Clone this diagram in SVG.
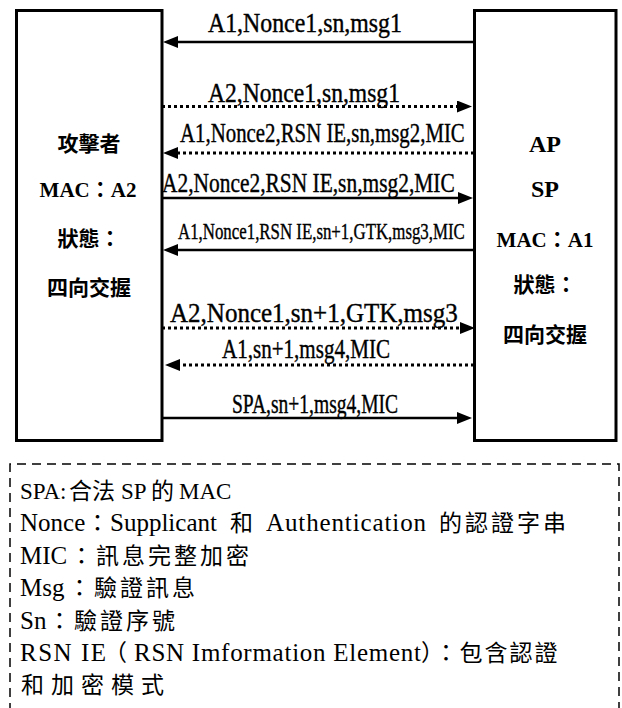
<svg xmlns="http://www.w3.org/2000/svg" width="622" height="708" viewBox="0 0 622 708">
<style>
.box{fill:#fff;stroke:#000;stroke-width:3}
.solid{stroke:#000;stroke-width:2.5;fill:none}
.dot{stroke:#000;stroke-width:3;fill:none;stroke-dasharray:3 3}
.lbl{font-family:"Liberation Serif",serif;font-size:27px;fill:#000;stroke:#000;stroke-width:0.4}
.nodecjk{font-family:"Noto Sans CJK TC",sans-serif;font-size:21px;font-weight:bold;fill:#000;text-anchor:middle}
.nodelat{font-family:"Liberation Serif","Noto Sans CJK TC",serif;font-weight:bold;fill:#000;text-anchor:middle}
.lat{font-family:"Liberation Serif",serif;fill:#000}
.cjk{font-family:"Noto Sans CJK TC",sans-serif;font-size:23px;fill:#000}
.dash{fill:none;stroke:#000;stroke-width:1.5;stroke-dasharray:9 6}
</style>
<defs>
<marker id="ah" markerUnits="userSpaceOnUse" markerWidth="16" markerHeight="13" refX="5" refY="6" orient="auto">
<path d="M0,0 L15,6 L0,12 z" fill="#000"/>
</marker>
</defs>
<rect width="622" height="708" fill="#fff"/>
<g id="attacker">
<rect class="box" x="16.5" y="10.5" width="145.5" height="430"/>
<text class="nodecjk" x="89" y="151">攻擊者</text>
<text class="nodelat" x="88" y="197" style="font-size:21px">MAC：A2</text>
<text class="nodecjk" x="89" y="246">狀態：</text>
<text class="nodecjk" x="89" y="295">四向交握</text>
</g>
<g id="ap">
<rect class="box" x="474.5" y="10.5" width="141.5" height="430"/>
<text class="nodelat" x="545" y="152" style="font-size:24px">AP</text>
<text class="nodelat" x="545" y="197" style="font-size:24px">SP</text>
<text class="nodelat" x="545" y="247" style="font-size:21px">MAC：A1</text>
<text class="nodecjk" x="545" y="292">狀態：</text>
<text class="nodecjk" x="545" y="342">四向交握</text>
</g>
<g id="connectors">
<line class="solid" x1="474" y1="42" x2="173" y2="42" marker-end="url(#ah)"/>
<text class="lbl" transform="translate(208,32) scale(0.883,1)">A1,Nonce1,sn,msg1</text>
<line class="dot" x1="162" y1="106.5" x2="462" y2="106.5" marker-end="url(#ah)"/>
<text class="lbl" transform="translate(208,102) scale(0.874,1)">A2,Nonce1,sn,msg1</text>
<line class="dot" x1="474" y1="153" x2="173" y2="153" marker-end="url(#ah)"/>
<text class="lbl" transform="translate(180,142) scale(0.772,1)">A1,Nonce2,RSN IE,sn,msg2,MIC</text>
<line class="solid" x1="162" y1="198" x2="463" y2="198" marker-end="url(#ah)"/>
<text class="lbl" transform="translate(162,192) scale(0.794,1)">A2,Nonce2,RSN IE,sn,msg2,MIC</text>
<line class="solid" x1="474" y1="250" x2="173" y2="250" marker-end="url(#ah)"/>
<text class="lbl" style="font-size:24px" transform="translate(178,239) scale(0.702,1)">A1,Nonce1,RSN IE,sn+1,GTK,msg3,MIC</text>
<line class="dot" x1="162" y1="328" x2="465" y2="328" marker-end="url(#ah)"/>
<text class="lbl" transform="translate(170,322) scale(0.927,1)">A2,Nonce1,sn+1,GTK,msg3</text>
<line class="dot" x1="474" y1="365" x2="175" y2="365" marker-end="url(#ah)"/>
<text class="lbl" transform="translate(222,358) scale(0.78,1)">A1,sn+1,msg4,MIC</text>
<line class="solid" x1="162" y1="418" x2="462" y2="418" marker-end="url(#ah)"/>
<text class="lbl" transform="translate(232,413) scale(0.724,1)">SPA,sn+1,msg4,MIC</text>
</g>
<g id="legend">
<path class="dash" d="M10,712 V464 H619 V712"/>
<text y="499"><tspan class="lat" x="20" style="font-size:23px">SPA:</tspan><tspan class="cjk" x="69">合法</tspan><tspan class="lat" x="121" style="font-size:23px">SP</tspan><tspan class="cjk" x="151">的</tspan><tspan class="lat" x="179" style="font-size:23px">MAC</tspan></text>
<text y="531.4"><tspan class="lat" x="20" style="font-size:25px">Nonce</tspan><tspan class="cjk" x="86">：</tspan><tspan class="lat" x="110" style="font-size:25px">Supplicant</tspan><tspan class="cjk" x="230">和</tspan><tspan class="lat" x="266" style="font-size:25px" textLength="160">Authentication</tspan><tspan class="cjk" x="439" style="letter-spacing:3px">的認證字串</tspan></text>
<text y="563.8"><tspan class="lat" x="20" style="font-size:25px">MIC</tspan><tspan class="cjk" x="70" style="letter-spacing:3px">：訊息完整加密</tspan></text>
<text y="596.2"><tspan class="lat" x="20" style="font-size:25px">Msg</tspan><tspan class="cjk" x="68" style="letter-spacing:3px">：驗證訊息</tspan></text>
<text y="628.6"><tspan class="lat" x="20" style="font-size:25px">Sn</tspan><tspan class="cjk" x="48" style="letter-spacing:3px">：驗證序號</tspan></text>
<text y="661"><tspan class="lat" x="20" style="font-size:25px" textLength="86">RSN IE</tspan><tspan class="cjk" x="104">（</tspan><tspan class="lat" x="134" style="font-size:25px" textLength="287">RSN Imformation Element</tspan><tspan class="cjk" x="421" style="letter-spacing:2px">）：包含認證</tspan></text>
<text y="693.4"><tspan class="cjk" x="21" style="letter-spacing:7px">和加密模式</tspan></text>
</g>
</svg>
